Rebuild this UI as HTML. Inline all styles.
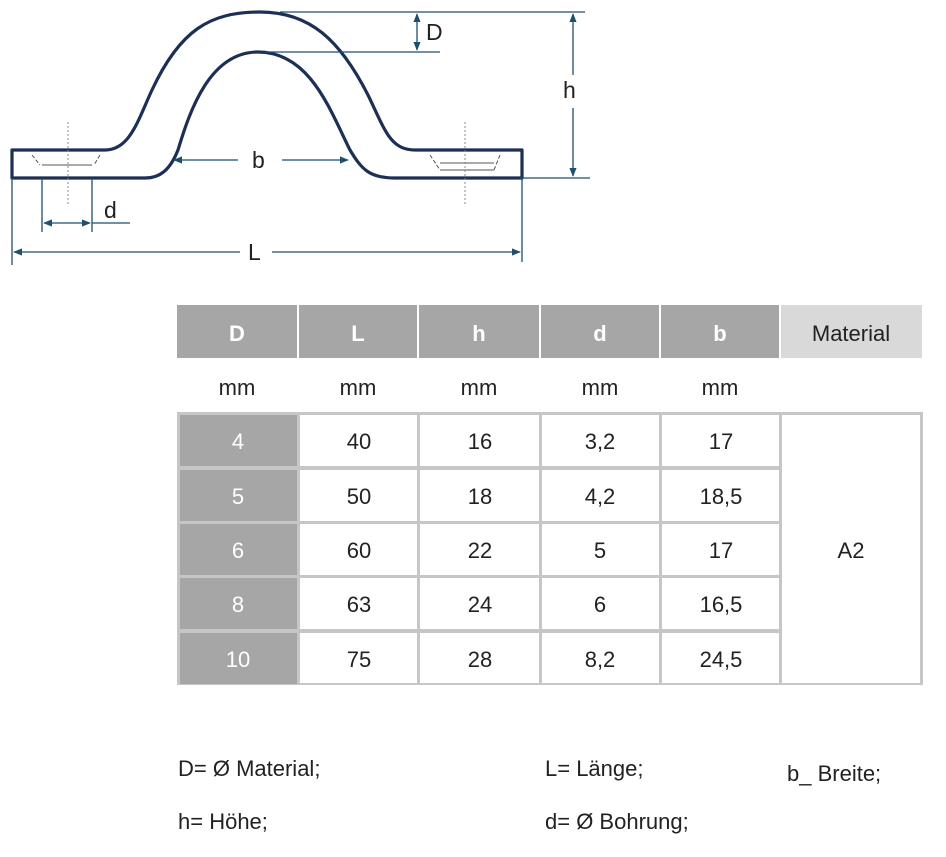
<!DOCTYPE html>
<html><head><meta charset="utf-8"><style>
html,body{margin:0;padding:0;background:#fff;}
svg{display:block;}
text{font-family:"Liberation Sans",sans-serif;}
</style></head><body>
<svg width="946" height="857" viewBox="0 0 946 857" xmlns="http://www.w3.org/2000/svg">
<defs>
<marker id="a" viewBox="0 0 10 10" refX="9" refY="5" markerWidth="7" markerHeight="7" orient="auto-start-reverse"><path d="M0,1 L10,5 L0,9 z" fill="#1f4e6e"/></marker>
</defs>
<g fill="none" stroke="#1c2f55" stroke-width="3.2" stroke-linejoin="round">
<path d="M12,150 L105,150 C130,150 138,120 152,90 C180,30 210,12 260,12 C310,12 340,40 368,95 C385,130 390,150 415,150 L522,150 L522,178 L395,178 C370,178 362,170 350,150 C330,110 310,52 258,52 C210,52 190,110 178,150 C170,170 160,178 145,178 L12,178 Z"/>
</g>
<g stroke="#555" stroke-width="1" fill="none">
<path d="M32,155 L40,165 M100,155 L94,165" stroke-dasharray="4,2"/>
<path d="M42,165 L92,165"/>
<path d="M430,155 L440,170 M500,155 L494,170" stroke-dasharray="4,2"/>
<path d="M440,163 L494,163 M440,170 L494,170"/>
<path d="M68,122 L68,205 M465,122 L465,205" stroke-dasharray="2,2" stroke="#888"/>
</g>
<g stroke="#1f4e6e" stroke-width="1.3" fill="none">
<path d="M280,12 L585,12 M265,52 L440,52 M520,178 L590,178"/>
<path d="M417,14 L417,50" marker-start="url(#a)" marker-end="url(#a)"/>
<path d="M573,75 L573,14" marker-end="url(#a)"/>
<path d="M573,108 L573,176" marker-end="url(#a)"/>
<path d="M238,160 L174,160" marker-end="url(#a)"/>
<path d="M282,160 L348,160" marker-end="url(#a)"/>
<path d="M42,178 L42,232 M92,178 L92,232"/>
<path d="M44,223 L90,223" marker-start="url(#a)" marker-end="url(#a)"/>
<path d="M92,223 L130,223"/>
<path d="M12,178 L12,265 M522,178 L522,262"/>
<path d="M240,252 L14,252" marker-end="url(#a)"/>
<path d="M272,252 L520,252" marker-end="url(#a)"/>
</g>
<g fill="#222" font-size="23">
<text x="426" y="40">D</text>
<text x="563" y="98">h</text>
<text x="252" y="168">b</text>
<text x="104" y="218">d</text>
<text x="248" y="260">L</text>
</g>
<g>
<rect x="177" y="305" width="120" height="53" fill="#a6a6a6"/>
<rect x="299" y="305" width="118" height="53" fill="#a6a6a6"/>
<rect x="419" y="305" width="120" height="53" fill="#a6a6a6"/>
<rect x="541" y="305" width="118" height="53" fill="#a6a6a6"/>
<rect x="661" y="305" width="118" height="53" fill="#a6a6a6"/>
<rect x="781" y="305" width="141" height="53" fill="#d9d9d9"/>
<rect x="177" y="412" width="746" height="273" fill="#c6c6c6"/>
<rect x="180" y="415" width="117" height="51" fill="#a6a6a6"/>
<rect x="180" y="470" width="117" height="51" fill="#a6a6a6"/>
<rect x="180" y="524" width="117" height="51" fill="#a6a6a6"/>
<rect x="180" y="578" width="117" height="51" fill="#a6a6a6"/>
<rect x="180" y="633" width="117" height="51" fill="#a6a6a6"/>
<g fill="#fff">
<rect x="300" y="415" width="117" height="51"/><rect x="420" y="415" width="119" height="51"/><rect x="542" y="415" width="117" height="51"/><rect x="662" y="415" width="117" height="51"/>
<rect x="300" y="470" width="117" height="51"/><rect x="420" y="470" width="119" height="51"/><rect x="542" y="470" width="117" height="51"/><rect x="662" y="470" width="117" height="51"/>
<rect x="300" y="524" width="117" height="51"/><rect x="420" y="524" width="119" height="51"/><rect x="542" y="524" width="117" height="51"/><rect x="662" y="524" width="117" height="51"/>
<rect x="300" y="578" width="117" height="51"/><rect x="420" y="578" width="119" height="51"/><rect x="542" y="578" width="117" height="51"/><rect x="662" y="578" width="117" height="51"/>
<rect x="300" y="633" width="117" height="50"/><rect x="420" y="633" width="119" height="50"/><rect x="542" y="633" width="117" height="50"/><rect x="662" y="633" width="117" height="50"/>
<rect x="782" y="415" width="138" height="268"/>
</g>
<g font-size="22" text-anchor="middle" fill="#fff" font-weight="bold">
<text x="237" y="341">D</text><text x="358" y="341">L</text><text x="479" y="341">h</text><text x="600" y="341">d</text><text x="720" y="341">b</text>
</g>
<text x="851" y="341" font-size="22" text-anchor="middle" fill="#222">Material</text>
<g font-size="22" text-anchor="middle" fill="#222">
<text x="237" y="395">mm</text><text x="358" y="395">mm</text><text x="479" y="395">mm</text><text x="600" y="395">mm</text><text x="720" y="395">mm</text>
</g>
<g font-size="22" text-anchor="middle" fill="#fff">
<text x="238" y="449">4</text><text x="238" y="504">5</text><text x="238" y="558">6</text><text x="238" y="612">8</text><text x="238" y="667">10</text>
</g>
<g font-size="22" text-anchor="middle" fill="#222">
<text x="359" y="449">40</text><text x="480" y="449">16</text><text x="600" y="449">3,2</text><text x="721" y="449">17</text>
<text x="359" y="504">50</text><text x="480" y="504">18</text><text x="600" y="504">4,2</text><text x="721" y="504">18,5</text>
<text x="359" y="558">60</text><text x="480" y="558">22</text><text x="600" y="558">5</text><text x="721" y="558">17</text>
<text x="359" y="612">63</text><text x="480" y="612">24</text><text x="600" y="612">6</text><text x="721" y="612">16,5</text>
<text x="359" y="667">75</text><text x="480" y="667">28</text><text x="600" y="667">8,2</text><text x="721" y="667">24,5</text>
<text x="851" y="558">A2</text>
</g>
</g>
<g font-size="22" fill="#222">
<text x="178" y="776">D= Ø Material;</text>
<text x="545" y="776">L= Länge;</text>
<text x="787" y="781">b_ Breite;</text>
<text x="178" y="829">h= Höhe;</text>
<text x="545" y="829">d=  Ø Bohrung;</text>
</g>
</svg>
</body></html>
